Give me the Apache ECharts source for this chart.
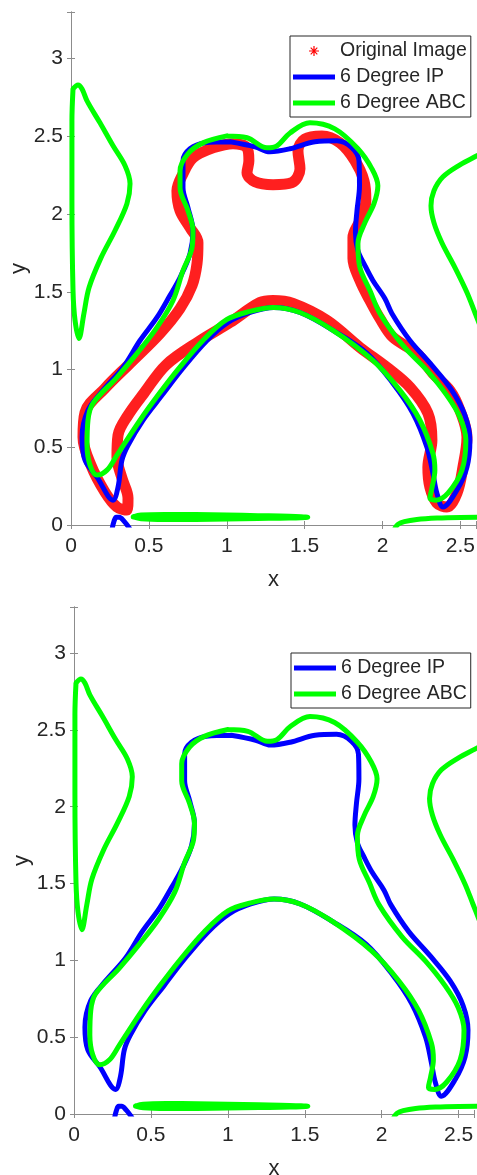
<!DOCTYPE html>
<html>
<head>
<meta charset="utf-8">
<script src="https://cdn.jsdelivr.net/npm/echarts@6/dist/echarts.min.js"></script>
<style>
  html, body { margin: 0; padding: 0; background: #fff; }
  #main { width: 477px; height: 1175px; }
</style>
</head>
<body>
<div id="main"></div>
<script>
// axis ranges (same for both panels)
var xRange = [0, 2.6];
var yRange = [0, 3.3];
var tickStep = 0.5;

// legend names
var names = ['Original Image', '6 Degree IP', '6 Degree ABC'];

// original image contour (red band)
var originalImage = [
  [0.911,2.426],[1.040,2.452],[1.130,2.426],[1.142,2.343],[1.130,2.266],
  [1.181,2.208],[1.297,2.189],[1.418,2.202],[1.470,2.291],[1.457,2.407],[1.502,2.484],[1.611,2.503],
  [1.727,2.458],[1.823,2.343],[1.881,2.214],[1.893,2.086],[1.855,1.958],[1.810,1.849],[1.810,1.714],
  [1.855,1.573],[1.919,1.444],[1.983,1.329],[2.067,1.207],[2.221,1.104],[2.323,0.976],[2.433,0.866],
  [2.497,0.738],[2.542,0.565],[2.516,0.372],[2.478,0.205],[2.413,0.116],[2.349,0.141],[2.304,0.244],
  [2.291,0.372],[2.317,0.546],[2.291,0.719],[2.176,0.886],[2.028,1.014],[1.855,1.142],[1.643,1.316],
  [1.425,1.425],[1.297,1.444],[1.213,1.431],[1.021,1.303],[0.820,1.180],[0.610,1.030],[0.470,0.850],
  [0.366,0.706],[0.302,0.578],[0.295,0.436],[0.327,0.302],[0.366,0.173],[0.359,0.096],[0.295,0.116],
  [0.218,0.212],[0.128,0.385],[0.077,0.565],[0.090,0.725],[0.218,0.879],[0.379,1.040],[0.571,1.232],
  [0.700,1.393],[0.777,1.540],[0.809,1.682],[0.815,1.816],[0.764,1.913],[0.700,2.022],[0.680,2.150],
  [0.719,2.259],[0.783,2.362],[0.911,2.426]
];

// 6 degree IP (blue)
var ipMain = [
  [1.021,2.465],[1.181,2.433],[1.277,2.401],[1.406,2.420],
  [1.566,2.465],[1.707,2.471],[1.804,2.426],[1.849,2.343],[1.852,2.182],[1.836,2.022],[1.826,1.881],
  [1.842,1.765],[1.887,1.669],[1.938,1.573],[2.015,1.457],[2.060,1.361],[2.176,1.187],[2.317,1.027],
  [2.445,0.866],[2.529,0.706],[2.561,0.546],[2.542,0.372],[2.478,0.225],[2.388,0.116],[2.349,0.205],
  [2.323,0.334],[2.285,0.501],[2.195,0.719],[2.067,0.911],[1.900,1.104],[1.682,1.252],[1.470,1.367],
  [1.303,1.399],[1.149,1.367],[1.008,1.303],[0.873,1.187],[0.712,1.001],[0.584,0.834],[0.462,0.674],
  [0.366,0.513],[0.327,0.417],[0.302,0.244],[0.270,0.160],[0.167,0.308],[0.090,0.417],[0.071,0.565],
  [0.109,0.738],[0.205,0.866],[0.334,1.014],[0.443,1.187],[0.552,1.335],[0.635,1.476],[0.700,1.592],
  [0.764,1.746],[0.783,1.893],[0.751,2.041],[0.719,2.169],[0.719,2.343],[0.764,2.420],[0.860,2.458],
  [1.021,2.465]
];
var ipSmall = [[0.265,-0.02],[0.275,0.02],[0.29,0.05],[0.31,0.05],[0.34,0.025],[0.375,-0.02]];

// 6 degree ABC (green)
var abcMain = [
  [1.001,2.503],[1.130,2.491],[1.258,2.426],[1.322,2.439],
  [1.406,2.522],[1.534,2.587],[1.694,2.548],[1.842,2.420],[1.932,2.291],[1.970,2.182],[1.945,2.067],
  [1.887,1.945],[1.842,1.810],[1.855,1.656],[1.919,1.508],[1.983,1.361],[2.131,1.155],[2.285,0.995],
  [2.413,0.834],[2.497,0.693],[2.535,0.546],[2.510,0.353],[2.420,0.205],[2.343,0.160],[2.304,0.173],
  [2.317,0.237],[2.336,0.353],[2.323,0.462],[2.240,0.674],[2.112,0.866],[1.938,1.059],[1.682,1.252],
  [1.470,1.367],[1.297,1.399],[1.149,1.374],[1.001,1.322],[0.847,1.187],[0.687,1.001],[0.558,0.834],
  [0.443,0.674],[0.295,0.449],[0.231,0.353],[0.167,0.321],[0.122,0.385],[0.103,0.513],[0.109,0.674],
  [0.141,0.783],[0.295,0.950],[0.424,1.104],[0.552,1.271],[0.655,1.444],[0.719,1.637],[0.777,1.784],
  [0.783,1.893],[0.751,2.022],[0.700,2.169],[0.700,2.279],[0.751,2.388],[0.847,2.458],[1.001,2.503]
];
var abcLeft = [
  [0.013,2.805],[0.045,2.831],[0.071,2.805],[0.103,2.728],[0.186,2.587],[0.270,2.439],[0.347,2.311],
  [0.379,2.195],[0.359,2.067],[0.282,1.893],[0.193,1.720],[0.116,1.528],[0.083,1.361],[0.051,1.200],
  [0.026,1.316],[0.013,1.508],[0.006,2.086],[0.006,2.600],[0.013,2.805]
];
var abcRight = [
  [2.689,2.420],[2.606,2.375],[2.497,2.317],[2.388,2.240],[2.330,2.150],[2.311,2.054],[2.330,1.945],
  [2.381,1.816],[2.465,1.656],[2.542,1.496],[2.593,1.367],[2.638,1.252]
];
var abcEllipse = [
  [0.40,0.052],[0.45,0.064],[0.60,0.068],[0.80,0.067],[1.00,0.064],[1.20,0.060],[1.40,0.056],[1.52,0.050],
  [1.40,0.045],[1.20,0.042],[1.00,0.039],[0.80,0.036],[0.60,0.035],[0.45,0.040],[0.40,0.052]
];
var abcBottomRight = [[2.08,-0.02],[2.10,0.005],[2.14,0.022],[2.22,0.036],[2.35,0.045],[2.50,0.049],[2.70,0.050]];

var RED = '#ff0000', BLUE = '#0000ff', GREEN = '#00ff00';
var TXT = '#262626', AX = '#8c8c8c';
var FONT = '"Liberation Sans", Arial, Helvetica, sans-serif';

function tickFmt(v) {
  var k = v / tickStep;
  return Math.abs(k - Math.round(k)) < 1e-6 ? String(+v.toFixed(1)) : '';
}

function xAxes(grid, gap) {
  var base = {
    type: 'value', gridIndex: grid, min: xRange[0], max: xRange[1], interval: tickStep,
    axisLine: { show: true, lineStyle: { color: AX, width: 1 } },
    axisTick: { show: true, inside: true, length: 4, lineStyle: { color: AX } },
    splitLine: { show: false }
  };
  return [
    Object.assign({}, base, {
      position: 'bottom', name: 'x', nameLocation: 'middle', nameGap: gap, nameMoveOverlap: false,
      nameTextStyle: { color: TXT, fontSize: 22, fontFamily: FONT },
      axisLabel: { color: TXT, fontSize: 21, fontFamily: FONT, margin: 11, formatter: tickFmt }
    }),
    Object.assign({}, base, { position: 'top', axisLabel: { show: false } })
  ];
}

function yAxes(grid) {
  var base = {
    type: 'value', gridIndex: grid, min: yRange[0], max: yRange[1], interval: tickStep,
    axisLine: { show: true, lineStyle: { color: AX, width: 1 } },
    axisTick: { show: true, inside: true, length: 4, lineStyle: { color: AX } },
    splitLine: { show: false }
  };
  return [
    Object.assign({}, base, {
      position: 'left', name: 'y', nameLocation: 'middle', nameGap: 41, nameMoveOverlap: false,
      nameTextStyle: { color: TXT, fontSize: 22, fontFamily: FONT },
      axisLabel: { color: TXT, fontSize: 21, fontFamily: FONT, margin: 8, formatter: tickFmt }
    }),
    Object.assign({}, base, { position: 'right', axisLabel: { show: false } })
  ];
}

function curve(name, data, color, width, axis, z, opacity) {
  return {
    type: 'line', name: name, data: data,
    xAxisIndex: axis, yAxisIndex: axis,
    smooth: 0.35, symbol: 'none', showSymbol: false, clip: true,
    lineStyle: { color: color, width: width, cap: 'round', join: 'round', opacity: opacity || 1 },
    itemStyle: { color: color },
    z: z, silent: true, animation: false
  };
}

var lineIcon = 'path://M0,0H42V5H0Z';
var starIcon = 'path://M4.4,0H5.6V10H4.4Z M0,4.4H10V5.6H0Z M1.3,2.1L2.1,1.3L8.7,7.9L7.9,8.7Z M7.9,1.3L8.7,2.1L2.1,8.7L1.3,7.9Z';

function legendBox(left, top, items) {
  return {
    orient: 'vertical', left: left, top: top,
    itemWidth: 42, itemHeight: 10, itemGap: 6,
    padding: [5, 4, 4, 3],
    borderColor: TXT, borderWidth: 1, borderRadius: 0,
    backgroundColor: '#fff',
    selectedMode: false,
    textStyle: { color: TXT, fontSize: 19.5, fontFamily: FONT },
    data: items
  };
}

var series = [
  // top panel
  curve(names[0], originalImage, RED, 11, 0, 2, 0.88),
  curve(names[1], ipMain, BLUE, 5, 0, 3),
  curve(names[1], ipSmall, BLUE, 5, 0, 3),
  curve(names[2], abcMain, GREEN, 5, 0, 4),
  curve(names[2], abcLeft, GREEN, 5, 0, 4),
  curve(names[2], abcRight, GREEN, 5, 0, 4),
  curve(names[2], abcEllipse, GREEN, 5, 0, 4),
  curve(names[2], abcBottomRight, GREEN, 5, 0, 4),
  // bottom panel
  curve(names[1], ipMain, BLUE, 5, 2, 3),
  curve(names[1], ipSmall, BLUE, 5, 2, 3),
  curve(names[2], abcMain, GREEN, 5, 2, 4),
  curve(names[2], abcLeft, GREEN, 5, 2, 4),
  curve(names[2], abcRight, GREEN, 5, 2, 4),
  curve(names[2], abcEllipse, GREEN, 5, 2, 4),
  curve(names[2], abcBottomRight, GREEN, 5, 2, 4)
];

var chart = echarts.init(document.getElementById('main'), null, { renderer: 'canvas' });
chart.setOption({
  backgroundColor: '#fff',
  animation: false,
  grid: [
    { left: 71, top: 12, width: 405, height: 513, containLabel: false, outerBoundsMode: 'none' },
    { left: 74, top: 607, width: 400, height: 507, containLabel: false, outerBoundsMode: 'none' }
  ],
  xAxis: xAxes(0, 44).concat(xAxes(1, 44)),
  yAxis: yAxes(0).concat(yAxes(1)),
  legend: [
    legendBox(290, 36, [
      { name: names[0], icon: starIcon },
      { name: names[1], icon: lineIcon },
      { name: names[2], icon: lineIcon }
    ]),
    legendBox(291, 653, [
      { name: names[1], icon: lineIcon },
      { name: names[2], icon: lineIcon }
    ])
  ],
  series: series
});
</script>
</body>
</html>
